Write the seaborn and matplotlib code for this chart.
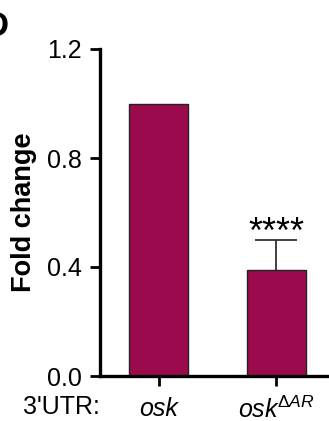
import matplotlib
matplotlib.use("Agg")
import matplotlib.pyplot as plt
import seaborn as sns
import pandas as pd
import numpy as np

categories = ["osk", "osk$^{\\Delta AR}$"]
values = [1.0, 0.39]
errors = [0.0, 0.11]
signif = ["", "****"]
yticks = [0.0, 0.4, 0.8, 1.2]
ytick_labels = ["0.0", "0.4", "0.8", "1.2"]

sns.set_style("ticks")
plt.rcParams['font.family'] = ['Liberation Sans', 'DejaVu Sans']
plt.rcParams['mathtext.fontset'] = 'custom'
plt.rcParams['mathtext.it'] = 'Liberation Sans:italic'
plt.rcParams['mathtext.rm'] = 'Liberation Sans'
plt.rcParams['text.color'] = 'black'
plt.rcParams['axes.labelcolor'] = 'black'
plt.rcParams['xtick.color'] = 'black'
plt.rcParams['ytick.color'] = 'black'

bar_color = "#9c0a4e"
fig = plt.figure(figsize=(3.29, 4.21), dpi=100)
ax = fig.add_axes([100/329, 1 - 376/421, 1 - 100/329, (376 - 49)/421])

df = pd.DataFrame({"cat": categories, "val": values})
sns.barplot(data=df, x="cat", y="val", color=bar_color, width=0.5,
            edgecolor="#222222", linewidth=1.0, saturation=1, errorbar=None, ax=ax)

x = np.arange(len(categories))
for xi, v, e, s in zip(x, values, errors, signif):
    if e > 0:
        _, caps, _ = ax.errorbar([xi], [v], yerr=[[0], [e]], fmt="none",
                                 ecolor="#333333", elinewidth=1.3, capsize=15, capthick=1.3)
        caps[0].set_visible(False)
    if s:
        ax.text(xi, v + e - 0.012, s, ha="center", va="baseline", fontsize=26)

ax.set_ylim(0, 1.2)
ax.set_xlim(-0.5, 1.45)
ax.set_yticks(yticks)
ax.set_yticklabels(ytick_labels)
ax.set_xticks(x)
ax.set_xticklabels(categories, style="italic")
ax.set_xlabel("")
ax.set_ylabel("Fold change", fontsize=19.5, fontweight="bold", labelpad=7)
ax.tick_params(axis="both", labelsize=18, width=2, length=7)
ax.tick_params(axis="y", pad=6)
ax.tick_params(axis="x", pad=8)
for sp in ["top", "right"]:
    ax.spines[sp].set_visible(False)
for sp in ["left", "bottom"]:
    ax.spines[sp].set_linewidth(2.4)
    ax.spines[sp].set_color("black")

fig.text(23/329, 1 - 414/421, "3'UTR:", fontsize=18, va="baseline", ha="left")
fig.text(9/329, 1 - 26/421, "D", fontsize=25, fontweight="bold", va="center", ha="right")

fig.savefig("out.png", dpi=100)
